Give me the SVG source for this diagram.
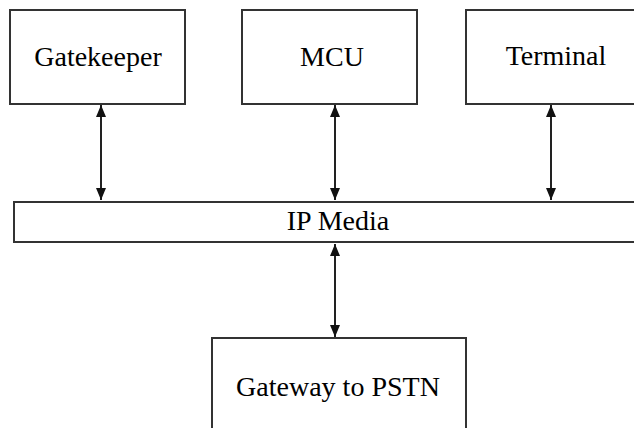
<svg xmlns="http://www.w3.org/2000/svg" width="634" height="428" viewBox="0 0 634 428">
  <style>
    .box { fill: #ffffff; stroke: #333333; stroke-width: 2; }
    .lbl { font-family: "Liberation Serif", "Times New Roman", serif; font-size: 28px; fill: #000000; text-anchor: middle; }
    .conn { stroke: #222222; stroke-width: 2; fill: none; marker-start: url(#ah); marker-end: url(#ah); }
  </style>
  <defs>
    <marker id="ah" viewBox="0 0 12 10" refX="12" refY="5" markerWidth="12" markerHeight="10" markerUnits="userSpaceOnUse" orient="auto-start-reverse">
      <path d="M0,0 L12,5 L0,10 Z" fill="#111111"/>
    </marker>
  </defs>
  <rect width="634" height="428" fill="#ffffff"/>
  <g id="gatekeeper">
    <rect class="box" x="10" y="10" width="175" height="94"/>
    <text class="lbl" x="98" y="66">Gatekeeper</text>
  </g>
  <g id="mcu">
    <rect class="box" x="242" y="10" width="175" height="94"/>
    <text class="lbl" x="332" y="66">MCU</text>
  </g>
  <g id="terminal">
    <rect class="box" x="466" y="10" width="180" height="94"/>
    <text class="lbl" x="556" y="65">Terminal</text>
  </g>
  <g id="ip-media">
    <rect class="box" x="14" y="202" width="632" height="40"/>
    <text class="lbl" x="338" y="230">IP Media</text>
  </g>
  <g id="gateway">
    <rect class="box" x="212" y="338" width="254" height="100"/>
    <text class="lbl" x="338" y="396">Gateway to PSTN</text>
  </g>
  <g id="connectors">
    <line class="conn" x1="101" y1="105" x2="101" y2="200"/>
    <line class="conn" x1="335" y1="105" x2="335" y2="200"/>
    <line class="conn" x1="551" y1="105" x2="551" y2="200"/>
    <line class="conn" x1="335" y1="244" x2="335" y2="337"/>
  </g>
</svg>
